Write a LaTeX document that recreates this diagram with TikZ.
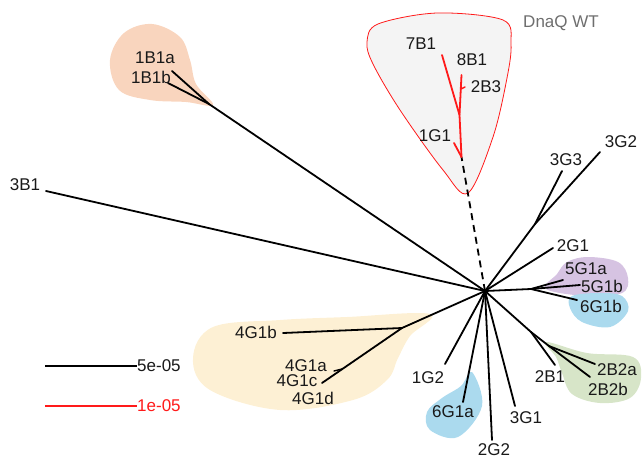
\documentclass[tikz,border=0pt]{standalone}
\usepackage{fontspec}
\setmainfont{Liberation Sans}
\definecolor{peach}{HTML}{F9D5BE}
\definecolor{lilac}{HTML}{D6C3E2}
\definecolor{skyblue}{HTML}{ABDAEE}
\definecolor{sage}{HTML}{D7E5C8}
\definecolor{cream}{HTML}{FDF0D4}
\definecolor{mist}{HTML}{F4F4F4}
\definecolor{wtgrey}{HTML}{6E6E6E}
\definecolor{wtred}{HTML}{FF1A1A}
\begin{document}
\begin{tikzpicture}[x=1pt,y=-1pt,
  branch/.style={line width=1.8pt, line cap=round},
  redbranch/.style={branch, draw=wtred},
  blob/.style={draw=none},
  lbl/.style={font=\fontsize{17}{20}\selectfont, inner sep=0pt, text=black!90}]
\useasboundingbox (0,0) rectangle (642,464);

% ---- clade backgrounds ----
\fill[peach] plot[smooth cycle, tension=0.6] coordinates
  {(110,60) (124,33) (152,24) (180,37) (190,60) (196,84) (213,105) (186,102) (150,100) (119,90)};
\fill[cream] plot[smooth cycle, tension=0.6] coordinates
  {(213,327) (193,358) (210,390) (280,410) (353,400) (387,380) (398,358) (410,336) (430,314) (347,317) (280,320)};
\fill[lilac] plot[smooth cycle, tension=0.6] coordinates
  {(567,262) (588,257) (618,262) (628,278) (622,293) (587,296) (546,289) (557,274)};
\fill[skyblue] plot[smooth cycle, tension=0.6] coordinates
  {(572,296) (600,293) (622,296) (628,311) (610,327) (582,322) (570,308)};
\fill[skyblue] plot[smooth cycle, tension=0.6] coordinates
  {(472,372) (482,406) (458,437) (430,430) (427,412) (442,398) (461,386)};
\fill[sage] plot[smooth cycle, tension=0.6] coordinates
  {(546,342) (587,353) (633,357) (641,378) (630,398) (600,403) (572,394) (562,373) (556,357)};
\filldraw[fill=mist, draw=wtred, line width=0.8pt] plot[smooth cycle, tension=0.55] coordinates
  {(367,42) (378,24) (437,13) (503,20) (511,44) (507,78) (493,137) (468,193) (443,170) (400,110) (373,64)};

% ---- tree coordinates ----
\coordinate (hub) at (485,291);
\coordinate (t3B1) at (46,191);
\coordinate (j1B1) at (209,104);
\coordinate (t1B1a) at (172,71);
\coordinate (t1B1b) at (168,83);
\coordinate (dq) at (461.5,157);
\coordinate (jr) at (459.5,115);
\coordinate (s2B3) at (461,89);
\coordinate (t2B3) at (465,87);
\coordinate (t8B1) at (461.5,75);
\coordinate (t7B1) at (442,55);
\coordinate (t1G1) at (454,143);
\coordinate (j3G) at (535,224);
\coordinate (t3G3) at (562,171);
\coordinate (t3G2) at (600,152);
\coordinate (t2G1) at (553,248);
\coordinate (j5) at (531,289);
\coordinate (t5G1a) at (563,280);
\coordinate (t5G1b) at (580,285);
\coordinate (t6G1b) at (577,300);
\coordinate (j4) at (402,328);
\coordinate (t4G1b) at (283,333);
\coordinate (t4G1c) at (322,383);
\coordinate (s4G1a) at (342,369);
\coordinate (t4G1a) at (334,371);
\coordinate (t1G2) at (445,364);
\coordinate (t6G1a) at (463,402);
\coordinate (t2G2) at (492,440);
\coordinate (t3G1) at (515,406);
\coordinate (j2B) at (531,332);
\coordinate (t2B1) at (555,365);
\coordinate (j2B2) at (549,346);
\coordinate (t2B2a) at (595,364);
\coordinate (t2B2b) at (590,377);

% ---- branches ----
\draw[branch] (hub) -- (t3B1);
\draw[branch] (hub) -- (j1B1) -- (t1B1a);
\draw[branch] (j1B1) -- (t1B1b);
\draw[branch, line cap=butt, dash pattern=on 7pt off 5pt] (hub) -- (dq);
\draw[redbranch] (dq) -- (jr) -- (t7B1);
\draw[redbranch] (jr) -- (t8B1);
\draw[redbranch, line width=1.4pt] (s2B3) -- (t2B3);
\draw[redbranch] (dq) -- (t1G1);
\draw[branch] (hub) -- (j3G) -- (t3G3);
\draw[branch] (j3G) -- (t3G2);
\draw[branch] (hub) -- (t2G1);
\draw[branch] (hub) -- (j5) -- (t5G1b);
\draw[branch] (j5) -- (t5G1a);
\draw[branch] (j5) -- (t6G1b);
\draw[branch] (hub) -- (j4) -- (t4G1b);
\draw[branch] (j4) -- (t4G1c);
\draw[branch, line width=1.4pt] (s4G1a) -- (t4G1a);
\draw[branch] (hub) -- (t1G2);
\draw[branch] (hub) -- (t6G1a);
\draw[branch] (hub) -- (t2G2);
\draw[branch] (hub) -- (t3G1);
\draw[branch] (hub) -- (j2B) -- (t2B1);
\draw[branch] (j2B) -- (j2B2) -- (t2B2a);
\draw[branch] (j2B2) -- (t2B2b);

% ---- leaf labels ----
\node[lbl] (l3B1) at (25,185) {3B1};
\node[lbl] (l1B1a) at (155,58) {1B1a};
\node[lbl] (l1B1b) at (151,77) {1B1b};
\node[lbl] (l7B1) at (421,44) {7B1};
\node[lbl] (l8B1) at (472,60) {8B1};
\node[lbl] (l2B3) at (486,87) {2B3};
\node[lbl] (l1G1) at (435,136) {1G1};
\node[lbl, text=wtgrey] (ldnaq) at (561,23) {DnaQ WT};
\node[lbl] (l3G3) at (566,160) {3G3};
\node[lbl] (l3G2) at (621,142) {3G2};
\node[lbl] (l2G1) at (573,246) {2G1};
\node[lbl] (l5G1a) at (586,269) {5G1a};
\node[lbl] (l5G1b) at (602,286) {5G1b};
\node[lbl] (l6G1b) at (601,306) {6G1b};
\node[lbl] (l4G1b) at (256,332) {4G1b};
\node[lbl] (l4G1a) at (306,366) {4G1a};
\node[lbl] (l4G1c) at (297,381) {4G1c};
\node[lbl] (l4G1d) at (313,398) {4G1d};
\node[lbl] (l1G2) at (428,378) {1G2};
\node[lbl] (l6G1a) at (453,412) {6G1a};
\node[lbl] (l2G2) at (494,450) {2G2};
\node[lbl] (l3G1) at (526,418) {3G1};
\node[lbl] (l2B1) at (550,377) {2B1};
\node[lbl] (l2B2a) at (617,370) {2B2a};
\node[lbl] (l2B2b) at (608,389) {2B2b};

% ---- scale bars ----
\coordinate (sb1) at (45,366);
\node[lbl, anchor=west] (sbl1) at (137,366) {5e-05};
\draw[line width=1.4pt] (sb1) -- (sbl1.west);
\coordinate (sb2) at (45,406);
\node[lbl, anchor=west, text=wtred] (sbl2) at (137,406) {1e-05};
\draw[line width=1.4pt, wtred] (sb2) -- (sbl2.west);
\end{tikzpicture}
\end{document}
